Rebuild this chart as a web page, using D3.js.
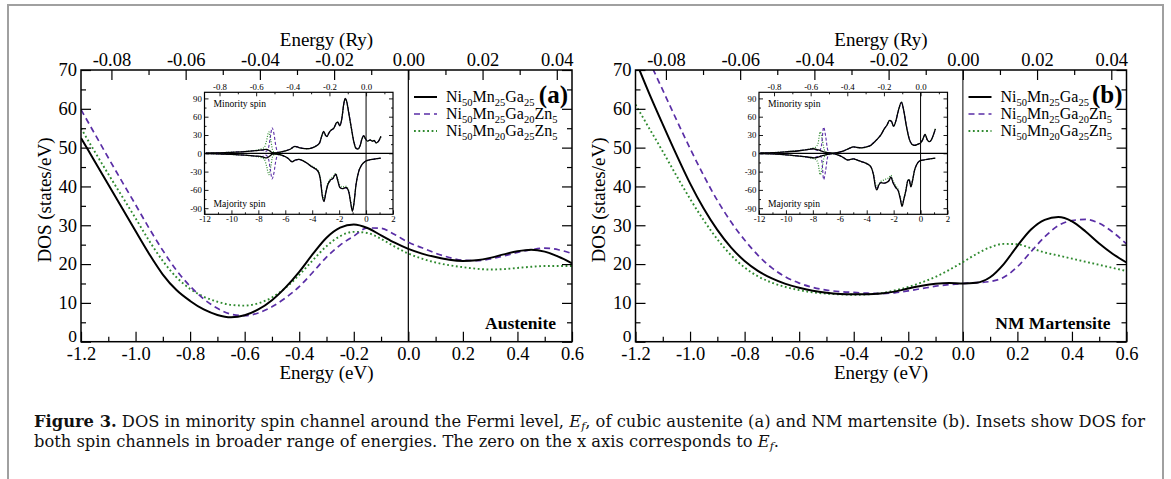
<!DOCTYPE html>
<html><head><meta charset="utf-8">
<script src="https://cdn.jsdelivr.net/npm/d3@7"></script>
<style>
body{margin:0;background:#fff}
svg{display:block}
svg text{font-family:"Liberation Serif","Times New Roman",Tinos,serif;}
svg text.cap{font-family:"DejaVu Serif","Liberation Serif",serif;}
</style>
</head><body>
<svg id="c" width="1171" height="479"></svg>
<script>
// ---------------- DATA ----------------
const energyEV = [-1.2,-1.15,-1.1,-1.05,-1.0,-0.95,-0.9,-0.85,-0.8,-0.75,-0.7,-0.65,-0.6,-0.55,-0.5,-0.45,-0.4,-0.35,-0.3,-0.25,-0.2,-0.15,-0.1,-0.05,0,0.05,0.1,0.15,0.2,0.25,0.3,0.35,0.4,0.45,0.5,0.55,0.6];

// (a) Austenite, minority-spin DOS (states/eV)
const austNi50Mn25Ga25   = [52.5,46.5,40.5,34.5,28.5,22.6,17.3,13.3,10.5,8.3,6.9,6.3,6.8,8.3,10.7,14.0,18.0,22.6,26.8,29.4,30.2,29.3,27.4,25.5,23.9,22.7,21.8,21.1,20.8,21.0,21.6,22.5,23.3,23.7,23.2,21.9,20.2];
const austNi50Mn25Ga20Zn5 = [59.8,53.6,47.4,41.3,35.3,29.2,23.5,18.4,14.3,11.0,8.6,7.1,6.7,7.4,9.0,11.3,14.2,17.9,21.8,24.9,27.2,29.3,29.2,27.6,25.6,24.2,22.8,21.7,21.0,20.9,21.3,22.1,23.0,23.7,24.1,23.7,22.7];
const austNi50Mn20Ga25Zn5 = [55.0,49.0,43.2,37.5,31.8,26.0,20.8,16.6,13.6,11.6,10.3,9.5,9.3,9.9,11.4,13.9,17.2,21.0,24.6,27.2,28.3,28.0,26.5,24.5,22.7,21.4,20.4,19.7,19.2,18.8,18.6,18.7,19.0,19.3,19.5,19.5,19.5];

// (b) NM martensite, minority-spin DOS (states/eV)
const martNi50Mn25Ga25   = [72.5,64.0,56.0,48.2,40.8,34.3,28.8,24.3,20.8,18.2,16.3,14.9,13.9,13.1,12.6,12.3,12.2,12.2,12.4,12.9,13.7,14.4,14.9,15.1,15.0,15.2,16.6,20.0,24.7,28.9,31.4,32.1,31.0,28.4,25.3,22.6,20.4];
const martNi50Mn25Ga20Zn5 = [79.5,72.3,64.8,57.2,49.8,42.8,36.4,30.9,26.2,22.2,19.0,16.7,15.1,14.0,13.3,12.9,12.7,12.5,12.4,12.6,13.1,13.7,14.3,14.7,15.0,15.2,15.5,16.6,19.3,23.2,27.0,29.9,31.2,31.5,30.5,28.2,25.2];
const martNi50Mn20Ga25Zn5 = [61.1,55.0,49.0,42.8,36.8,31.3,26.4,22.3,19.1,16.8,15.2,14.1,13.3,12.7,12.4,12.2,12.1,12.2,12.5,13.2,14.1,15.3,16.7,18.5,20.5,22.6,24.3,25.2,25.1,24.1,23.0,22.2,21.4,20.6,19.8,19.0,18.2];

// Insets: [energy (eV), DOS] ; minority positive, majority negative
const insetAustMinBase = [[-11.9,0.3],[-11,0.8],[-10,1.6],[-9,2.8],[-8.2,4.3],[-7.7,5.5],[-7.4,6.5],[-7.15,4],[-6.95,1],[-6.7,0.8],[-6.4,2],[-6,4],[-5.6,7],[-5.3,11.5],[-5.0,9.5],[-4.7,8],[-4.4,7.5],[-4.0,9],[-3.7,12],[-3.45,17],[-3.3,28],[-3.15,36],[-3.0,29],[-2.9,27.5],[-2.75,34],[-2.6,38],[-2.4,41],[-2.2,50],[-2.1,51],[-1.95,45],[-1.8,57],[-1.65,82],[-1.55,90],[-1.45,86],[-1.3,68],[-1.1,42],[-0.9,18],[-0.75,8],[-0.6,7],[-0.45,12],[-0.3,24],[-0.17,29],[-0.05,24],[0.1,20],[0.3,22],[0.45,20],[0.6,21],[0.75,17],[0.9,19],[1.1,28]];
const insetAustMajBase = [[-11.9,-0.3],[-11,-1],[-10,-1.8],[-9,-3],[-8.2,-4.5],[-7.7,-5.8],[-7.4,-7.5],[-7.15,-4.5],[-6.95,-1.5],[-6.7,-1.3],[-6.4,-2],[-6.1,-4.5],[-5.8,-8],[-5.5,-14],[-5.25,-11],[-5.0,-10],[-4.7,-12],[-4.4,-16],[-4.1,-21],[-3.8,-25],[-3.55,-30],[-3.4,-42],[-3.25,-70],[-3.12,-79],[-3.0,-66],[-2.85,-52],[-2.65,-44],[-2.45,-41],[-2.25,-34],[-2.1,-45],[-1.95,-56],[-1.75,-58],[-1.5,-56],[-1.3,-62],[-1.15,-80],[-1.02,-95],[-0.9,-82],[-0.75,-52],[-0.55,-30],[-0.35,-20],[-0.1,-14],[0.2,-11],[0.6,-9.5],[1.1,-8]];
const insetAustMinGaZn = [[-11.9,0.3],[-11,0.8],[-10,1.7],[-9,2.9],[-8.2,4.4],[-7.7,5],[-7.45,3],[-7.25,9],[-7.1,28],[-6.98,42],[-6.85,33],[-6.7,12],[-6.55,1.5],[-6.35,1.8],[-6,4],[-5.6,7.2],[-5.3,11.5],[-5.0,9.8],[-4.7,8.2],[-4.4,7.8],[-4.0,9.2],[-3.7,12.5],[-3.45,17.5],[-3.3,27],[-3.15,35],[-3.0,29.5],[-2.9,28],[-2.75,33],[-2.6,37],[-2.4,41.5],[-2.2,49],[-2.1,50],[-1.95,46],[-1.8,57],[-1.65,81],[-1.55,89],[-1.45,86],[-1.3,69],[-1.1,43],[-0.9,19],[-0.75,9],[-0.6,7.5],[-0.45,12.5],[-0.3,24.5],[-0.17,28.5],[-0.05,24],[0.1,20.5],[0.3,21.5],[0.45,20.5],[0.6,20.5],[0.75,17.5],[0.9,19],[1.1,27]];
const insetAustMajGaZn = [[-11.9,-0.3],[-11,-1],[-10,-1.9],[-9,-3.1],[-8.2,-4.6],[-7.7,-5.2],[-7.45,-3],[-7.25,-9],[-7.1,-28],[-6.98,-42],[-6.85,-33],[-6.7,-12],[-6.55,-2],[-6.35,-2.5],[-6.1,-4.8],[-5.8,-8.3],[-5.5,-13.5],[-5.25,-11.2],[-5.0,-10.3],[-4.7,-12.3],[-4.4,-16.2],[-4.1,-21],[-3.8,-25.5],[-3.55,-30.5],[-3.4,-43],[-3.25,-69],[-3.12,-78],[-3.0,-66],[-2.85,-52],[-2.65,-45],[-2.45,-41],[-2.25,-35],[-2.1,-45],[-1.95,-55],[-1.75,-58],[-1.5,-57],[-1.3,-63],[-1.15,-80],[-1.02,-94],[-0.9,-82],[-0.75,-52],[-0.55,-30],[-0.35,-20],[-0.1,-14],[0.2,-11],[0.6,-9.5],[1.1,-8]];
const insetAustMinMnZn = [[-11.9,0.3],[-11,0.9],[-10,1.8],[-9,3.1],[-8.2,5],[-7.75,7.5],[-7.55,10],[-7.4,20],[-7.22,35],[-7.08,22],[-6.95,6],[-6.8,1],[-6.55,0.8],[-6.3,2],[-6,4],[-5.6,7],[-5.3,11],[-5.0,9.5],[-4.7,8],[-4.4,7.6],[-4.0,9],[-3.7,12.5],[-3.45,17],[-3.3,27],[-3.15,35],[-3.0,29],[-2.9,28],[-2.75,34],[-2.6,38],[-2.4,42],[-2.2,49],[-2.1,51],[-1.95,46],[-1.8,57],[-1.65,81],[-1.55,89],[-1.45,85],[-1.3,68],[-1.1,42],[-0.9,18],[-0.75,8.5],[-0.6,7.5],[-0.45,12],[-0.3,24],[-0.17,28.5],[-0.05,24],[0.1,20],[0.3,22],[0.45,20],[0.6,21],[0.75,17],[0.9,19],[1.1,27]];
const insetAustMajMnZn = [[-11.9,-0.3],[-11,-1.1],[-10,-2],[-9,-3.3],[-8.2,-5],[-7.75,-7.5],[-7.55,-10],[-7.4,-20],[-7.22,-35],[-7.08,-22],[-6.95,-6],[-6.8,-2],[-6.55,-2],[-6.3,-3],[-6.1,-4.5],[-5.8,-8],[-5.5,-13],[-5.25,-11],[-5.0,-10],[-4.7,-12],[-4.4,-16],[-4.1,-20],[-3.8,-24],[-3.55,-29],[-3.4,-40],[-3.25,-66],[-3.12,-75],[-3.0,-64],[-2.85,-50],[-2.65,-42],[-2.45,-38],[-2.25,-33],[-2.1,-42],[-1.95,-52],[-1.75,-55],[-1.5,-54],[-1.3,-60],[-1.15,-78],[-1.02,-92],[-0.9,-81],[-0.75,-52],[-0.55,-30],[-0.35,-20],[-0.1,-14],[0.2,-11],[0.6,-9.5],[1.1,-8]];

const insetMartMinBase = [[-11.9,0.5],[-11,1],[-10,2.5],[-9,4.2],[-8.3,6.5],[-8.0,7.5],[-7.6,5.5],[-7.2,2.5],[-6.9,1],[-6.5,0.3],[-6.1,1.5],[-5.7,4],[-5.3,8],[-5.0,10.5],[-4.7,9.5],[-4.4,9],[-4.0,10.5],[-3.7,13],[-3.4,19],[-3.1,26],[-2.9,32],[-2.7,40],[-2.5,46],[-2.3,54],[-2.15,52],[-2.0,44],[-1.85,52],[-1.65,70],[-1.42,84],[-1.25,70],[-1.05,44],[-0.85,24],[-0.65,15],[-0.45,13],[-0.2,15],[0.0,17],[0.15,22],[0.33,31],[0.5,22],[0.65,19],[0.8,22],[0.95,30],[1.1,40]];
const insetMartMajBase = [[-11.9,-0.5],[-11,-1],[-10,-2.5],[-9,-4.5],[-8.3,-6.5],[-7.9,-7.5],[-7.5,-5.5],[-7.0,-2],[-6.5,-0.5],[-6.1,-3],[-5.8,-6],[-5.4,-11],[-5.0,-9],[-4.7,-11],[-4.4,-13.5],[-4.0,-17],[-3.7,-22],[-3.5,-35],[-3.35,-55],[-3.25,-60],[-3.1,-52],[-2.95,-48],[-2.75,-49],[-2.55,-48],[-2.35,-45],[-2.2,-39],[-2.05,-48],[-1.85,-56],[-1.65,-62],[-1.5,-75],[-1.38,-87],[-1.25,-76],[-1.1,-62],[-0.95,-45],[-0.85,-43],[-0.72,-55],[-0.6,-45],[-0.45,-28],[-0.3,-19],[-0.1,-13],[0.2,-11],[0.6,-9.5],[1.1,-8]];
const insetMartMinGaZn = [[-11.9,0.5],[-11,1],[-10,2.5],[-9,4.3],[-8.3,6.5],[-8.0,7],[-7.7,5],[-7.5,4],[-7.35,14],[-7.2,43],[-7.05,28],[-6.9,6],[-6.7,0],[-6.5,0.3],[-6.1,1.6],[-5.7,4],[-5.3,8],[-5.0,10.3],[-4.7,9.5],[-4.4,9.2],[-4.0,10.8],[-3.7,13.5],[-3.4,19.5],[-3.1,26],[-2.9,32],[-2.7,40],[-2.5,46],[-2.3,53],[-2.15,52],[-2.0,45],[-1.85,52],[-1.65,69],[-1.42,83],[-1.25,70],[-1.05,45],[-0.85,25],[-0.65,15.5],[-0.45,13.5],[-0.2,15],[0.0,17],[0.15,22],[0.33,30],[0.5,22],[0.65,19],[0.8,22],[0.95,30],[1.1,39]];
const insetMartMajGaZn = [[-11.9,-0.5],[-11,-1],[-10,-2.5],[-9,-4.5],[-8.3,-6.5],[-7.9,-7],[-7.6,-5],[-7.45,-4],[-7.32,-14],[-7.2,-43],[-7.05,-28],[-6.9,-6],[-6.7,-1],[-6.5,-0.7],[-6.1,-3],[-5.8,-6],[-5.4,-11],[-5.0,-9],[-4.7,-11],[-4.4,-13.5],[-4.0,-17],[-3.7,-22],[-3.5,-35],[-3.35,-54],[-3.25,-59],[-3.1,-52],[-2.95,-48],[-2.75,-49],[-2.55,-48],[-2.35,-45],[-2.2,-39],[-2.05,-48],[-1.85,-56],[-1.65,-62],[-1.5,-75],[-1.38,-86],[-1.25,-76],[-1.1,-62],[-0.95,-45],[-0.85,-43],[-0.72,-54],[-0.6,-45],[-0.45,-28],[-0.3,-19],[-0.1,-13],[0.2,-11],[0.6,-9.5],[1.1,-8]];
const insetMartMinMnZn = [[-11.9,0.5],[-11,1.1],[-10,2.7],[-9,4.6],[-8.3,7],[-8.0,8.5],[-7.8,10],[-7.62,16],[-7.45,35],[-7.3,22],[-7.15,6],[-6.95,1],[-6.6,0.3],[-6.1,1.6],[-5.7,4],[-5.3,8],[-5.0,10.5],[-4.7,9.5],[-4.4,9],[-4.0,10.5],[-3.7,13],[-3.4,19],[-3.1,26],[-2.9,32],[-2.7,40],[-2.5,46],[-2.3,54],[-2.15,52],[-2.0,44],[-1.85,52],[-1.65,70],[-1.42,84],[-1.25,70],[-1.05,44],[-0.85,24],[-0.65,15],[-0.45,13],[-0.2,15],[0.0,17],[0.15,22],[0.33,31],[0.5,22],[0.65,19],[0.8,22],[0.95,30],[1.1,40]];
const insetMartMajMnZn = [[-11.9,-0.5],[-11,-1.1],[-10,-2.7],[-9,-4.8],[-8.3,-7],[-8.0,-8.5],[-7.8,-10],[-7.62,-16],[-7.45,-35],[-7.3,-22],[-7.15,-6],[-6.95,-2],[-6.5,-0.8],[-6.1,-3.2],[-5.8,-6.5],[-5.4,-11],[-5.0,-9],[-4.7,-11],[-4.4,-13.5],[-4.0,-17],[-3.7,-22],[-3.5,-33],[-3.35,-50],[-3.25,-56],[-3.1,-50],[-2.95,-46],[-2.75,-44],[-2.55,-42],[-2.35,-40],[-2.2,-36],[-2.05,-45],[-1.85,-53],[-1.65,-60],[-1.5,-73],[-1.38,-85],[-1.25,-75],[-1.1,-61],[-0.95,-45],[-0.85,-43],[-0.72,-54],[-0.6,-45],[-0.45,-28],[-0.3,-19],[-0.1,-13],[0.2,-11],[0.6,-9.5],[1.1,-8]];

// Ticks
const bottomTicksEV = [-1.2,-1.0,-0.8,-0.6,-0.4,-0.2,0.0,0.2,0.4,0.6];
const bottomMinorEV = [-1.1,-0.9,-0.7,-0.5,-0.3,-0.1,0.1,0.3,0.5];
const topTicksRy = [-0.08,-0.06,-0.04,-0.02,0.00,0.02,0.04];
const topMinorRy = [-0.07,-0.05,-0.03,-0.01,0.01,0.03];
const yTicks = [0,10,20,30,40,50,60,70];
const yMinor = [5,15,25,35,45,55,65];
const insetXTicks = [-12,-10,-8,-6,-4,-2,0,2];
const insetXMinor = [-11,-9,-7,-5,-3,-1,1];
const insetTopTicks = [-0.8,-0.6,-0.4,-0.2,0.0];
const insetTopMinor = [-0.7,-0.5,-0.3,-0.1,0.1];
const insetYTicks = [-90,-60,-30,0,30,60,90];
const insetYMinor = [-75,-45,-15,15,45,75];

const legendLabels = [
  ["Ni","50","Mn","25","Ga","25"],
  ["Ni","50","Mn","25","Ga","20","Zn","5"],
  ["Ni","50","Mn","20","Ga","25","Zn","5"]
];
const panelLetters = ["(a)","(b)"];
const phaseNames = ["Austenite","NM Martensite"];
const RY_EV = 13.6057;

// ---------------- DRAWING ----------------
const SERIF = '"Liberation Serif","Times New Roman",Tinos,serif';
const svg = d3.select("#c");
const fmt = d3.formatLocale({decimal:".",thousands:",",grouping:[3],currency:["",""],minus:"-"});
const f1 = fmt.format(".1f"), f2 = fmt.format(".2f"), fd = fmt.format("d");

const styles = [
  {stroke:"#000000", width:2.0, dash:null},
  {stroke:"#5a2ea6", width:1.7, dash:"6,4"},
  {stroke:"#2f8a2f", width:1.9, dash:"1.8,2.6"}
];
const istyles = [
  {stroke:"#000000", width:1.3, dash:null},
  {stroke:"#5a2ea6", width:1.1, dash:"3,2"},
  {stroke:"#2f8a2f", width:1.2, dash:"1,1.5"}
];

// Outer figure frame
svg.append("rect").attr("x",8).attr("y",5).attr("width",1155).attr("height",490)
  .attr("fill","none").attr("stroke","#a0a0a0").attr("stroke-width",2);

function styleAxis(g, fs){
  g.attr("font-family",SERIF).attr("font-size",fs);
  g.select(".domain").remove();
  g.selectAll(".tick line").attr("stroke","#000").attr("stroke-width",1.2);
  g.selectAll(".tick text").attr("fill","#000");
}

const PW = 491, PT = 70, PB = 341.7;
const panels = [
  {left:81,  main:[austNi50Mn25Ga25,austNi50Mn25Ga20Zn5,austNi50Mn20Ga25Zn5],
   inset:[[insetAustMinBase,insetAustMajBase],[insetAustMinGaZn,insetAustMajGaZn],[insetAustMinMnZn,insetAustMajMnZn]], zeroColor:"#000", zeroW:1.2},
  {left:635.5, main:[martNi50Mn25Ga25,martNi50Mn25Ga20Zn5,martNi50Mn20Ga25Zn5],
   inset:[[insetMartMinBase,insetMartMajBase],[insetMartMinGaZn,insetMartMajGaZn],[insetMartMinMnZn,insetMartMajMnZn]], zeroColor:"#555", zeroW:1.5}
];

panels.forEach((p, pi) => {
  const L = p.left, R = L + PW;
  const x = d3.scaleLinear().domain([-1.2,0.6]).range([L,R]);
  const xr = d3.scaleLinear().domain([-1.2/RY_EV,0.6/RY_EV]).range([L,R]);
  const y = d3.scaleLinear().domain([0,70]).range([PB,PT]);
  const g = svg.append("g");

  const clipId = "clip"+pi;
  svg.append("clipPath").attr("id",clipId).append("rect")
    .attr("x",L).attr("y",PT).attr("width",PW).attr("height",PB-PT);

  // zero line
  g.append("line").attr("x1",x(0)).attr("x2",x(0)).attr("y1",PT).attr("y2",PB)
    .attr("stroke",p.zeroColor).attr("stroke-width",p.zeroW);

  // curves
  const line = d3.line().x((d,i)=>x(energyEV[i])).y(d=>y(d)).curve(d3.curveMonotoneX);
  const cg = g.append("g").attr("clip-path","url(#"+clipId+")");
  [2,1,0].forEach(si => {
    cg.append("path").datum(p.main[si]).attr("d",line).attr("fill","none")
      .attr("stroke",styles[si].stroke).attr("stroke-width",styles[si].width)
      .attr("stroke-dasharray",styles[si].dash);
  });

  // axes
  const ax = (axis, tx, ty, fs) => { const a = g.append("g").attr("transform",`translate(${tx},${ty})`).call(axis); styleAxis(a, fs); return a; };
  ax(d3.axisBottom(x).tickValues(bottomTicksEV).tickFormat(f1).tickSizeInner(-10).tickSizeOuter(0).tickPadding(5.5), 0, PB, 18.5);
  ax(d3.axisBottom(x).tickValues(bottomMinorEV).tickFormat(()=>"").tickSizeInner(-5).tickSizeOuter(0), 0, PB, 10);
  ax(d3.axisTop(xr).tickValues(topTicksRy).tickFormat(f2).tickSizeInner(-10).tickSizeOuter(0).tickPadding(4), 0, PT, 18.5);
  ax(d3.axisTop(xr).tickValues(topMinorRy).tickFormat(()=>"").tickSizeInner(-5).tickSizeOuter(0), 0, PT, 10);
  const yl = ax(d3.axisLeft(y).tickValues(yTicks).tickFormat(fd).tickSizeInner(-10).tickSizeOuter(0).tickPadding(4), L, 0, 18.5);
  yl.selectAll(".tick text").filter(d => d === 0).attr("dy","0em").attr("font-size",17.5);
  ax(d3.axisLeft(y).tickValues(yMinor).tickFormat(()=>"").tickSizeInner(-5).tickSizeOuter(0), L, 0, 10);
  ax(d3.axisRight(y).tickValues(yTicks).tickFormat(()=>"").tickSizeInner(-10).tickSizeOuter(0), R, 0, 10);
  ax(d3.axisRight(y).tickValues(yMinor).tickFormat(()=>"").tickSizeInner(-5).tickSizeOuter(0), R, 0, 10);

  // frame
  g.append("rect").attr("x",L).attr("y",PT).attr("width",PW).attr("height",PB-PT)
    .attr("fill","none").attr("stroke","#000").attr("stroke-width",1.5);

  // axis titles
  const cx = (L+R)/2;
  g.append("text").attr("x",cx).attr("y",45.5).attr("text-anchor","middle")
    .attr("font-family",SERIF).attr("font-size",19).text("Energy (Ry)");
  g.append("text").attr("x",cx).attr("y",378.5).attr("text-anchor","middle")
    .attr("font-family",SERIF).attr("font-size",19).text("Energy (eV)");
  g.append("text").attr("transform",`translate(${L-37},200) rotate(-90)`)
    .attr("text-anchor","middle").attr("dominant-baseline","central")
    .attr("font-family",SERIF).attr("font-size",19).text("DOS (states/eV)");

  // legend
  const rows = [97,114,131];
  legendLabels.forEach((parts, li) => {
    g.append("line").attr("x1",L+333).attr("x2",L+356).attr("y1",rows[li]).attr("y2",rows[li])
      .attr("stroke",styles[li].stroke).attr("stroke-width",styles[li].width)
      .attr("stroke-dasharray",styles[li].dash);
    const t = g.append("text").attr("x",L+365).attr("y",rows[li]+5)
      .attr("font-family",SERIF).attr("font-size",16);
    parts.forEach((s, k) => {
      const isSub = k % 2 === 1;
      const ts = t.append("tspan").text(s);
      if (isSub) ts.attr("font-size",10.5).attr("dy",3.5);
      else if (k>0) ts.attr("dy",-3.5);
    });
  });
  g.append("text").attr("x",L+487).attr("y",103).attr("text-anchor","end")
    .attr("font-family",SERIF).attr("font-weight","bold").attr("font-size",25).text(panelLetters[pi]);
  g.append("text").attr("x",L+475).attr("y",328.5).attr("text-anchor","end")
    .attr("font-family",SERIF).attr("font-weight","bold").attr("font-size",17.5).text(phaseNames[pi]);

  // ---- inset ----
  const IL = L+123.5, IR = IL+188.5, IT = 92.3, IB = 214.3;
  const ix = d3.scaleLinear().domain([-12,2]).range([IL,IR]);
  const ixr = d3.scaleLinear().domain([-12/RY_EV,2/RY_EV]).range([IL,IR]);
  const iy = d3.scaleLinear().domain([-100,100]).range([IB,IT]);
  const ig = g.append("g");
  ig.append("rect").attr("x",IL).attr("y",IT).attr("width",IR-IL).attr("height",IB-IT).attr("fill","#fff");
  ig.append("line").attr("x1",ix(0)).attr("x2",ix(0)).attr("y1",IT).attr("y2",IB).attr("stroke","#000").attr("stroke-width",1);
  ig.append("line").attr("x1",IL).attr("x2",IR).attr("y1",iy(0)).attr("y2",iy(0)).attr("stroke","#000").attr("stroke-width",1.3);
  const iline = d3.line().x(d=>ix(d[0])).y(d=>iy(d[1])).curve(d3.curveMonotoneX);
  [2,1,0].forEach(si => {
    p.inset[si].forEach(arr => {
      ig.append("path").datum(arr).attr("d",iline).attr("fill","none")
        .attr("stroke",istyles[si].stroke).attr("stroke-width",istyles[si].width)
        .attr("stroke-dasharray",istyles[si].dash);
    });
  });
  const iax = (axis, tx, ty, fs) => { const a = ig.append("g").attr("transform",`translate(${tx},${ty})`).call(axis); styleAxis(a, fs); a.selectAll(".tick line").attr("stroke-width",0.9); return a; };
  iax(d3.axisBottom(ix).tickValues(insetXTicks).tickFormat(fd).tickSizeInner(-4).tickSizeOuter(0).tickPadding(1.8), 0, IB, 8.8);
  iax(d3.axisBottom(ix).tickValues(insetXMinor).tickFormat(()=>"").tickSizeInner(-2).tickSizeOuter(0), 0, IB, 8);
  iax(d3.axisTop(ixr).tickValues(insetTopTicks).tickFormat(f1).tickSizeInner(-4).tickSizeOuter(0).tickPadding(2.3), 0, IT, 8.8);
  iax(d3.axisTop(ixr).tickValues(insetTopMinor).tickFormat(()=>"").tickSizeInner(-2).tickSizeOuter(0), 0, IT, 8);
  iax(d3.axisLeft(iy).tickValues(insetYTicks).tickFormat(fd).tickSizeInner(-4).tickSizeOuter(0).tickPadding(2.6), IL, 0, 8.8);
  iax(d3.axisLeft(iy).tickValues(insetYMinor).tickFormat(()=>"").tickSizeInner(-2).tickSizeOuter(0), IL, 0, 8);
  iax(d3.axisRight(iy).tickValues(insetYTicks).tickFormat(()=>"").tickSizeInner(-4).tickSizeOuter(0), IR, 0, 8);
  iax(d3.axisRight(iy).tickValues(insetYMinor).tickFormat(()=>"").tickSizeInner(-2).tickSizeOuter(0), IR, 0, 8);
  ig.append("rect").attr("x",IL).attr("y",IT).attr("width",IR-IL).attr("height",IB-IT)
    .attr("fill","none").attr("stroke","#000").attr("stroke-width",1.2);
  ig.append("text").attr("x",IL+9).attr("y",106.7).attr("font-family",SERIF).attr("font-size",9.6).text("Minority spin");
  ig.append("text").attr("x",IL+9).attr("y",206.7).attr("font-family",SERIF).attr("font-size",9.6).text("Majority spin");
});

// ---------------- CAPTION ----------------
const cap = svg.append("g").attr("fill","#111");
const l1 = cap.append("text").attr("class","cap").attr("x",34).attr("y",427).attr("font-size",15);
l1.append("tspan").attr("font-weight","bold").text("Figure 3.");
l1.append("tspan").text(" DOS in minority spin channel around the Fermi level, ");
l1.append("tspan").attr("font-style","italic").text("E");
l1.append("tspan").attr("font-style","italic").attr("font-size","0.68em").attr("dy",3).text("f");
l1.append("tspan").attr("dy",-3).text(", of cubic austenite (a) and NM martensite (b). Insets show DOS for");
const l2 = cap.append("text").attr("class","cap").attr("x",34).attr("y",447).attr("font-size",15);
l2.append("tspan").text("both spin channels in broader range of energies. The zero on the x axis corresponds to ");
l2.append("tspan").attr("font-style","italic").text("E");
l2.append("tspan").attr("font-style","italic").attr("font-size","0.68em").attr("dy",3).text("f");
l2.append("tspan").attr("dy",-3).text(".");
// scale the caption font so the first line spans the caption width
const len1 = l1.node().getComputedTextLength();
const capFs = Math.min(17, 15 * 1112 / len1);
l1.attr("font-size", capFs);
l2.attr("font-size", capFs);
</script>
</body></html>
